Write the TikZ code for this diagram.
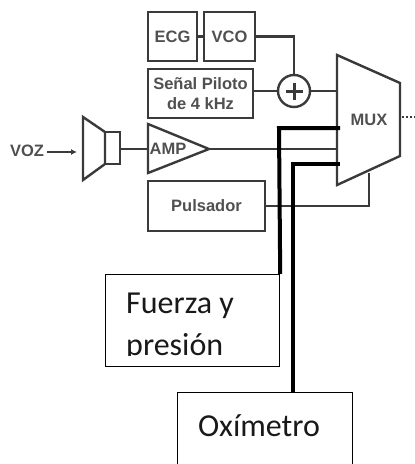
\documentclass[tikz,border=0pt]{standalone}
\usepackage{fontspec}
\setmainfont{Carlito}
\newfontfamily\blockfont{Liberation Sans}
\usetikzlibrary{arrows.meta,calc,shapes.geometric}
\definecolor{blockgray}{HTML}{3A3A3A}
\definecolor{labelgray}{HTML}{505050}
\tikzset{
    block/.style={
        draw=blockgray,
        line width=2.4pt,
        text=labelgray,
        font=\blockfont\bfseries\fontsize{16.5}{24}\selectfont,
        align=center,
        inner sep=0pt
    },
    tag/.style={
        text=labelgray,
        font=\blockfont\bfseries\fontsize{16.5}{24}\selectfont,
        inner sep=0pt
    },
    wire/.style={
        draw=blockgray,
        line width=2.2pt
    },
    outline/.style={
        draw=blockgray,
        line width=2.4pt
    },
    thick wire/.style={
        draw=black,
        line width=4pt
    },
    note/.style={
        draw=black,
        line width=1.2pt,
        fill=white,
        inner sep=0pt
    },
    note text/.style={
        inner sep=0pt,
        anchor=base west,
        text=black!90,
        font=\fontsize{32}{37}\selectfont
    }
}
\begin{document}
\begin{tikzpicture}[x=1pt,y=-1pt]
    \useasboundingbox (0,0) rectangle (415,464);
    % upper blocks
    \node[block,minimum width=49pt,minimum height=49pt] (ecg) at (172.5,36.5) {ECG};
    \node[block,minimum width=51pt,minimum height=49pt] (vco) at (229.5,36.5) {VCO};
    \node[block,minimum width=105pt,minimum height=49pt] (piloto) at (200.5,93.5) {Señal Piloto\\[-4pt]de 4 kHz};
    \node[block,minimum width=117pt,minimum height=50pt] (pulsador) at (206.5,206) {Pulsador};
    \node[outline,circle,minimum size=32pt,inner sep=0pt] (suma) at (294,91) {};
    \draw[blockgray,line width=3pt] (285.5,91) -- (302.5,91) (294,82.5) -- (294,99.5);
    % mux
    \draw[outline] (337,55) -- (400,83) -- (400,156) -- (337,185) -- cycle;
    \node[tag] (mux) at (369,120) {MUX};
    \coordinate (mux a) at (337,91);
    \coordinate (mux b) at (340,128);
    \coordinate (mux c) at (337,149);
    \coordinate (mux d) at (340,164);
    \coordinate (mux e) at (369,173);
    % speaker and amplifier
    \draw[outline] (83,117) -- (105,132) -- (105,164) -- (83,180) -- cycle;
    \node[outline,minimum width=15pt,minimum height=32pt,inner sep=0pt] (bocina) at (112.5,148) {};
    \coordinate (amp in) at (148,149);
    \coordinate (amp out) at (209,149);
    \draw[outline] (148,124) -- (amp out) -- (148,173) -- cycle;
    \node[tag] (amp) at (168,149) {AMP};
    \node[tag] (voz) at (27,151) {VOZ};
    \coordinate (voz out) at (47,152);
    \coordinate (bocina in) at (77,152);
    % connections
    \draw[wire,-{Latex[length=6pt,width=6pt]}] (voz out) -- (bocina in);
    \draw[wire] (ecg) -- (vco);
    \draw[wire] (vco) -| (suma);
    \draw[wire] (suma.west) -- (suma.west -| piloto.east);
    \draw[wire] (suma) -- (mux a);
    \draw[wire] (bocina.east |- amp in) -- (amp in);
    \draw[wire] (amp out) -- (mux c);
    \draw[wire] (pulsador) -| (mux e);
    \draw[blockgray,line width=2pt,dash pattern=on 2pt off 2pt] (402,117) -- (415,117);
    % added boxes
    \node[note,anchor=north west,minimum width=174pt,minimum height=92pt] (fuerza) at (105,274) {};
    \node[note text] (fuerza text) at (126,313) {Fuerza y};
    \begin{scope}
        \clip (106,330) rectangle (278,355);
        \node[note text] (presion) at (126,355) {presión};
    \end{scope}
    \node[note,anchor=north west,minimum width=175pt,minimum height=90pt] (oximetro) at (177,392) {};
    \node[note text] (oximetro text) at (198,436) {Oxímetro};
    \draw[thick wire] (mux b) -- (279,128) -- (fuerza.north east);
    \draw[thick wire] (mux d) -- (293,164) -- (293,392);
\end{tikzpicture}
\end{document}
